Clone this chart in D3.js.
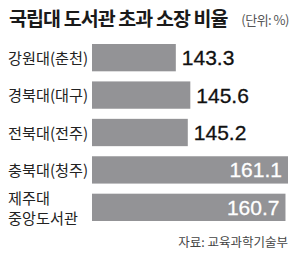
<!DOCTYPE html>
<html>
<head>
<meta charset="utf-8">
<script src="https://cdn.jsdelivr.net/npm/d3@7"></script>
<style>
  body { margin: 0; background: #fff; }
  svg { display: block; }
  .lbl { font-family: "Noto Sans CJK KR", sans-serif; font-size: 15.2px; fill: #222; }
  .val { font-family: "Liberation Sans Narrow", "Liberation Sans", sans-serif; font-size: 21px; stroke-width: 0.3px; }
</style>
</head>
<body>
<div id="chart"></div>
<script>
var width = 300,
    height = 256;

var names = ["강원대(춘천)", "경북대(대구)", "전북대(전주)", "충북대(청주)", "제주대\n중앙도서관"];
var values = [143.3, 145.6, 145.2, 161.1, 160.7];

var svg = d3.select("#chart").append("svg")
    .attr("width", width)
    .attr("height", height);

// title
svg.append("text")
    .attr("x", 9)
    .attr("y", 26)
    .style("font-family", "'Noto Sans CJK KR', sans-serif")
    .style("font-size", "19.5px")
    .style("font-weight", "bold")
    .style("fill", "#1a1a1a")
    .style("letter-spacing", "-0.9px")
    .text("국립대 도서관 초과 소장 비율");

svg.append("text")
    .attr("x", 289)
    .attr("y", 25)
    .attr("text-anchor", "end")
    .style("font-family", "'Noto Sans CJK KR', sans-serif")
    .style("font-size", "13px")
    .style("fill", "#555")
    .style("letter-spacing", "-0.5px")
    .text("(단위: %)");

var x = d3.scaleLinear()
    .domain([130, 161.1])
    .range([92, 288]);

var y = d3.scaleBand()
    .domain(d3.range(names.length))
    .range([44, 221])
    .paddingInner(0.27)
    .paddingOuter(0);

var bars = svg.selectAll(".bar")
    .data(values)
  .enter().append("g")
    .attr("class", "bar");

bars.append("rect")
    .attr("x", x(130))
    .attr("y", function(d, i) { return y(i); })
    .attr("width", function(d) { return x(d) - x(130); })
    .attr("height", y.bandwidth())
    .style("fill", "#939396");

// values: outside for short bars, inside (white) for long ones
bars.append("text")
    .attr("class", "val")
    .attr("x", function(d) { return d > 155 ? x(d) - 6 : x(d) + 6; })
    .attr("y", function(d, i) { return y(i) + y.bandwidth() / 2 + 7.5; })
    .attr("text-anchor", function(d) { return d > 155 ? "end" : "start"; })
    .style("fill", function(d) { return d > 155 ? "#fff" : "#111"; })
    .style("stroke", function(d) { return d > 155 ? "#fff" : "#111"; })
    .text(function(d) { return d.toFixed(1); });

// category labels, one text per line
names.forEach(function(d, i) {
  var lines = d.split("\n");
  var mid = y(i) + y.bandwidth() / 2;
  lines.forEach(function(s, k) {
    svg.append("text")
      .attr("class", "lbl")
      .attr("x", 8)
      .attr("y", mid + 6 - (lines.length - 1) * 9 + k * 20)
      .text(s);
  });
});

svg.append("text")
    .attr("x", 288)
    .attr("y", 247)
    .attr("text-anchor", "end")
    .style("font-family", "'Noto Sans CJK KR', sans-serif")
    .style("font-size", "12.5px")
    .style("fill", "#444")
    .text("자료: 교육과학기술부");
</script>
</body>
</html>
